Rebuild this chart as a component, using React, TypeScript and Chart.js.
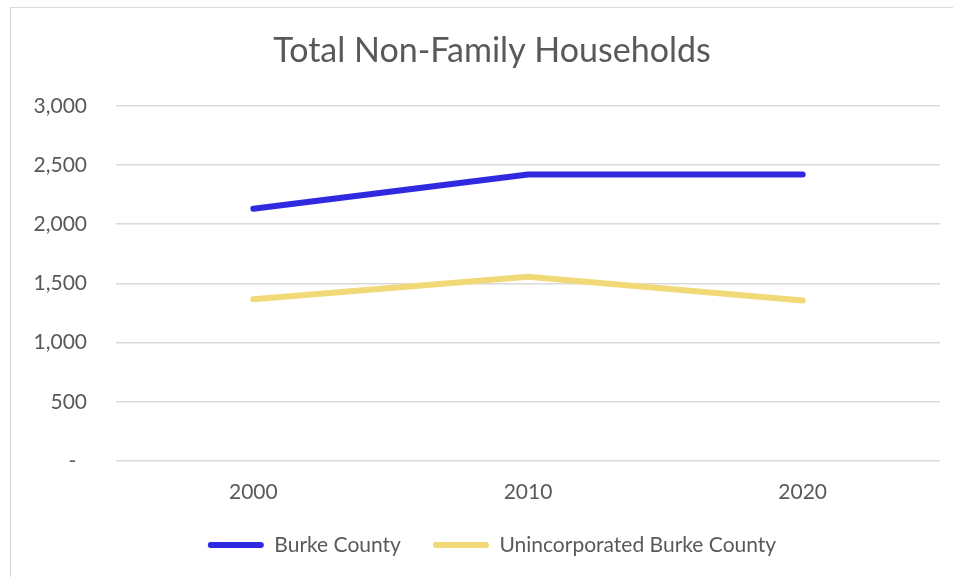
import React, { useEffect, useRef } from "react";
import { Chart, registerables } from "chart.js";

Chart.register(...registerables);

const years = ["2000", "2010", "2020"];
const burkeCounty = [2130, 2419, 2420];
const unincorporatedBurke = [1366, 1557, 1355];
const seriesNames = ["Burke County", "Unincorporated Burke County"];
const titleText = "Total Non-Family Households";

const TEXT = "#595959";
const GRID = "#d9d9d9";
const FONT = "Lato, 'Open Sans', sans-serif";

export default function App() {
  const ref = useRef<HTMLCanvasElement | null>(null);

  useEffect(() => {
    if (!ref.current) return;
    const chart = new Chart(ref.current, {
      type: "line",
      data: {
        labels: years,
        datasets: [
          {
            label: seriesNames[0],
            data: burkeCounty,
            borderColor: "#2f2ae0",
            backgroundColor: "#2f2ae0",
            borderWidth: 6,
            borderCapStyle: "round",
            borderJoinStyle: "round",
            pointRadius: 0,
            tension: 0,
          },
          {
            label: seriesNames[1],
            data: unincorporatedBurke,
            borderColor: "#f2d978",
            backgroundColor: "#f2d978",
            borderWidth: 6,
            borderCapStyle: "round",
            borderJoinStyle: "round",
            pointRadius: 0,
            tension: 0,
          },
        ],
      },
      options: {
        responsive: false,
        animation: false,
        layout: { padding: { left: 0, right: 0, top: 0, bottom: 11.5 } },
        plugins: {
          title: {
            display: true,
            text: titleText,
            color: TEXT,
            font: { family: FONT, size: 34, weight: "normal", lineHeight: 1.2 },
            padding: { top: 31, bottom: 34 },
          },
          legend: {
            display: true,
            position: "bottom",
            labels: {
              color: TEXT,
              font: { family: FONT, size: 21 },
              boxWidth: 56,
              boxHeight: 6,
              padding: 32,
              useBorderRadius: true,
              borderRadius: 3,
              generateLabels: (c: any) =>
                c.data.datasets.map((d: any, i: number) => ({
                  text: d.label,
                  fillStyle: d.borderColor,
                  strokeStyle: d.borderColor,
                  lineWidth: 0,
                  hidden: false,
                  datasetIndex: i,
                  fontColor: TEXT,
                  borderRadius: 3,
                })),
            },
          },
          tooltip: { enabled: false },
        },
        scales: {
          x: {
            offset: true,
            grid: { display: false, drawTicks: false },
            border: { display: false },
            ticks: {
              color: TEXT,
              font: { family: FONT, size: 21, lineHeight: 1 },
              padding: 20.5,
            },
            afterFit: (s: any) => {
              s.height = 41.5;
            },
          },
          y: {
            min: 0,
            max: 3000,
            grid: { color: GRID, lineWidth: 1.5, drawTicks: false },
            border: { display: false },
            ticks: {
              stepSize: 500,
              color: TEXT,
              font: { family: FONT, size: 21 },
              padding: 29,
              callback: (v: any) =>
                Number(v) === 0 ? "-  " : Number(v).toLocaleString("en-US"),
            },
            afterFit: (s: any) => {
              s.width = 116;
            },
          },
          yRight: {
            position: "right",
            display: true,
            grid: { display: false, drawTicks: false },
            border: { display: false },
            ticks: { display: false },
            afterFit: (s: any) => {
              s.width = 44;
            },
          },
        },
      },
    } as any);
    return () => chart.destroy();
  }, []);

  return (
    <div
      style={{
        position: "fixed",
        left: 0,
        top: 0,
        width: 953,
        height: 577,
        overflow: "hidden",
        background: "#fff",
      }}
    >
      <div
        style={{
          position: "absolute",
          left: 10,
          top: 7,
          width: 1000,
          height: 1000,
          borderLeft: "1.5px solid #d9d9d9",
          borderTop: "1.5px solid #d9d9d9",
        }}
      />
      <canvas
        ref={ref}
        width={984}
        height={577}
        style={{ position: "absolute", left: 0, top: 0, width: 984, height: 577 }}
      />
    </div>
  );
}
